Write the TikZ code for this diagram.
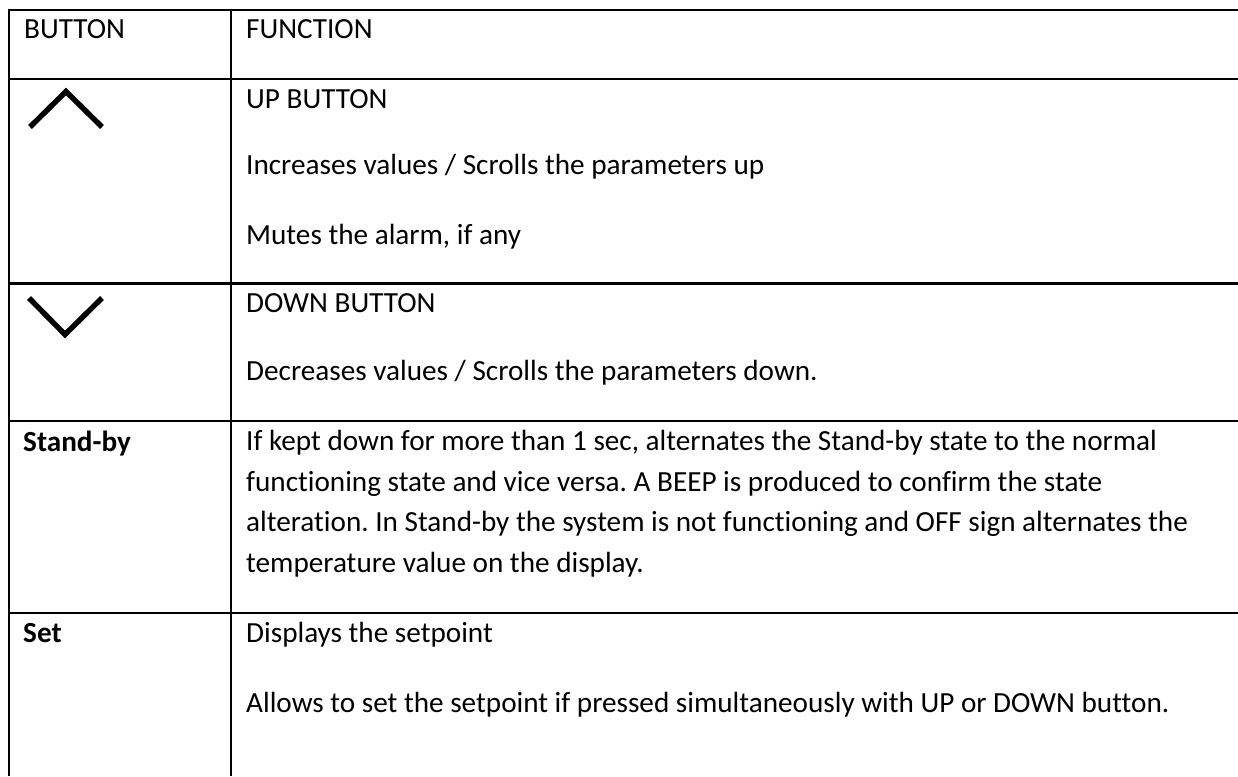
\documentclass[tikz,border=0pt]{standalone}
\usepackage{fontspec}
\setmainfont{Carlito}[Ligatures=NoCommon]
\frenchspacing
\begin{document}
\begin{tikzpicture}[x=1pt,y=-1pt,
  rule/.style={line width=2.4pt,black},
  chev/.style={line width=5.4pt,line cap=butt,line join=miter,black},
  txt/.style={anchor=base west,inner sep=0pt,font=\fontsize{29.2}{35}\selectfont,text=black},
  btxt/.style={txt,font=\fontsize{29.2}{35}\selectfont\bfseries}]
\useasboundingbox (0,0) rectangle (1238,776);
\fill[white] (0,0) rectangle (1238,776);
% grid
\coordinate (tl) at (9,10);
\coordinate (tr) at (1238,10);
\draw[rule] (tl) -- (tr);
\draw[rule] (9,79) -- (1238,79);
\draw[rule] (9,283.5) -- (1238,283.5);
\draw[rule] (9,421) -- (1238,421);
\draw[rule] (9,613) -- (1238,613);
\draw[rule] (9,8.8) -- (9,776);
\draw[rule] (231,8.8) -- (231,776);
% header
\node[txt] (hb) at (24,38) {BUTTON};
\node[txt] (hf) at (246,38) {FUNCTION};
% up
\draw[chev] (30,127) -- (66,91.5) -- (102,127);
\node[txt] (u1) at (246,108) {UP BUTTON};
\node[txt] (u2) at (246,174) {Increases values / Scrolls the parameters up};
\node[txt] (u3) at (246,244) {Mutes the alarm, if any};
% down
\draw[chev] (29,298) -- (65,334.5) -- (102,298);
\node[txt] (d1) at (246,312) {DOWN BUTTON};
\node[txt] (d2) at (246,380) {Decreases values / Scrolls the parameters down.};
% stand-by
\node[btxt] (sb) at (23,451) {Stand-by};
\node[txt] (s1) at (246,450) {If kept down for more than 1 sec, alternates the Stand-by state to the normal};
\node[txt] (s2) at (246,491) {functioning state and vice versa. A BEEP is produced to confirm the state};
\node[txt] (s3) at (246,531.5) {alteration. In Stand-by the system is not functioning and OFF sign alternates the};
\node[txt] (s4) at (246,572) {temperature value on the display.};
% set
\node[btxt] (st) at (23,642) {Set};
\node[txt] (t1) at (246,642) {Displays the setpoint};
\node[txt] (t2) at (246,712) {Allows to set the setpoint if pressed simultaneously with UP or DOWN button.};
\end{tikzpicture}
\end{document}
